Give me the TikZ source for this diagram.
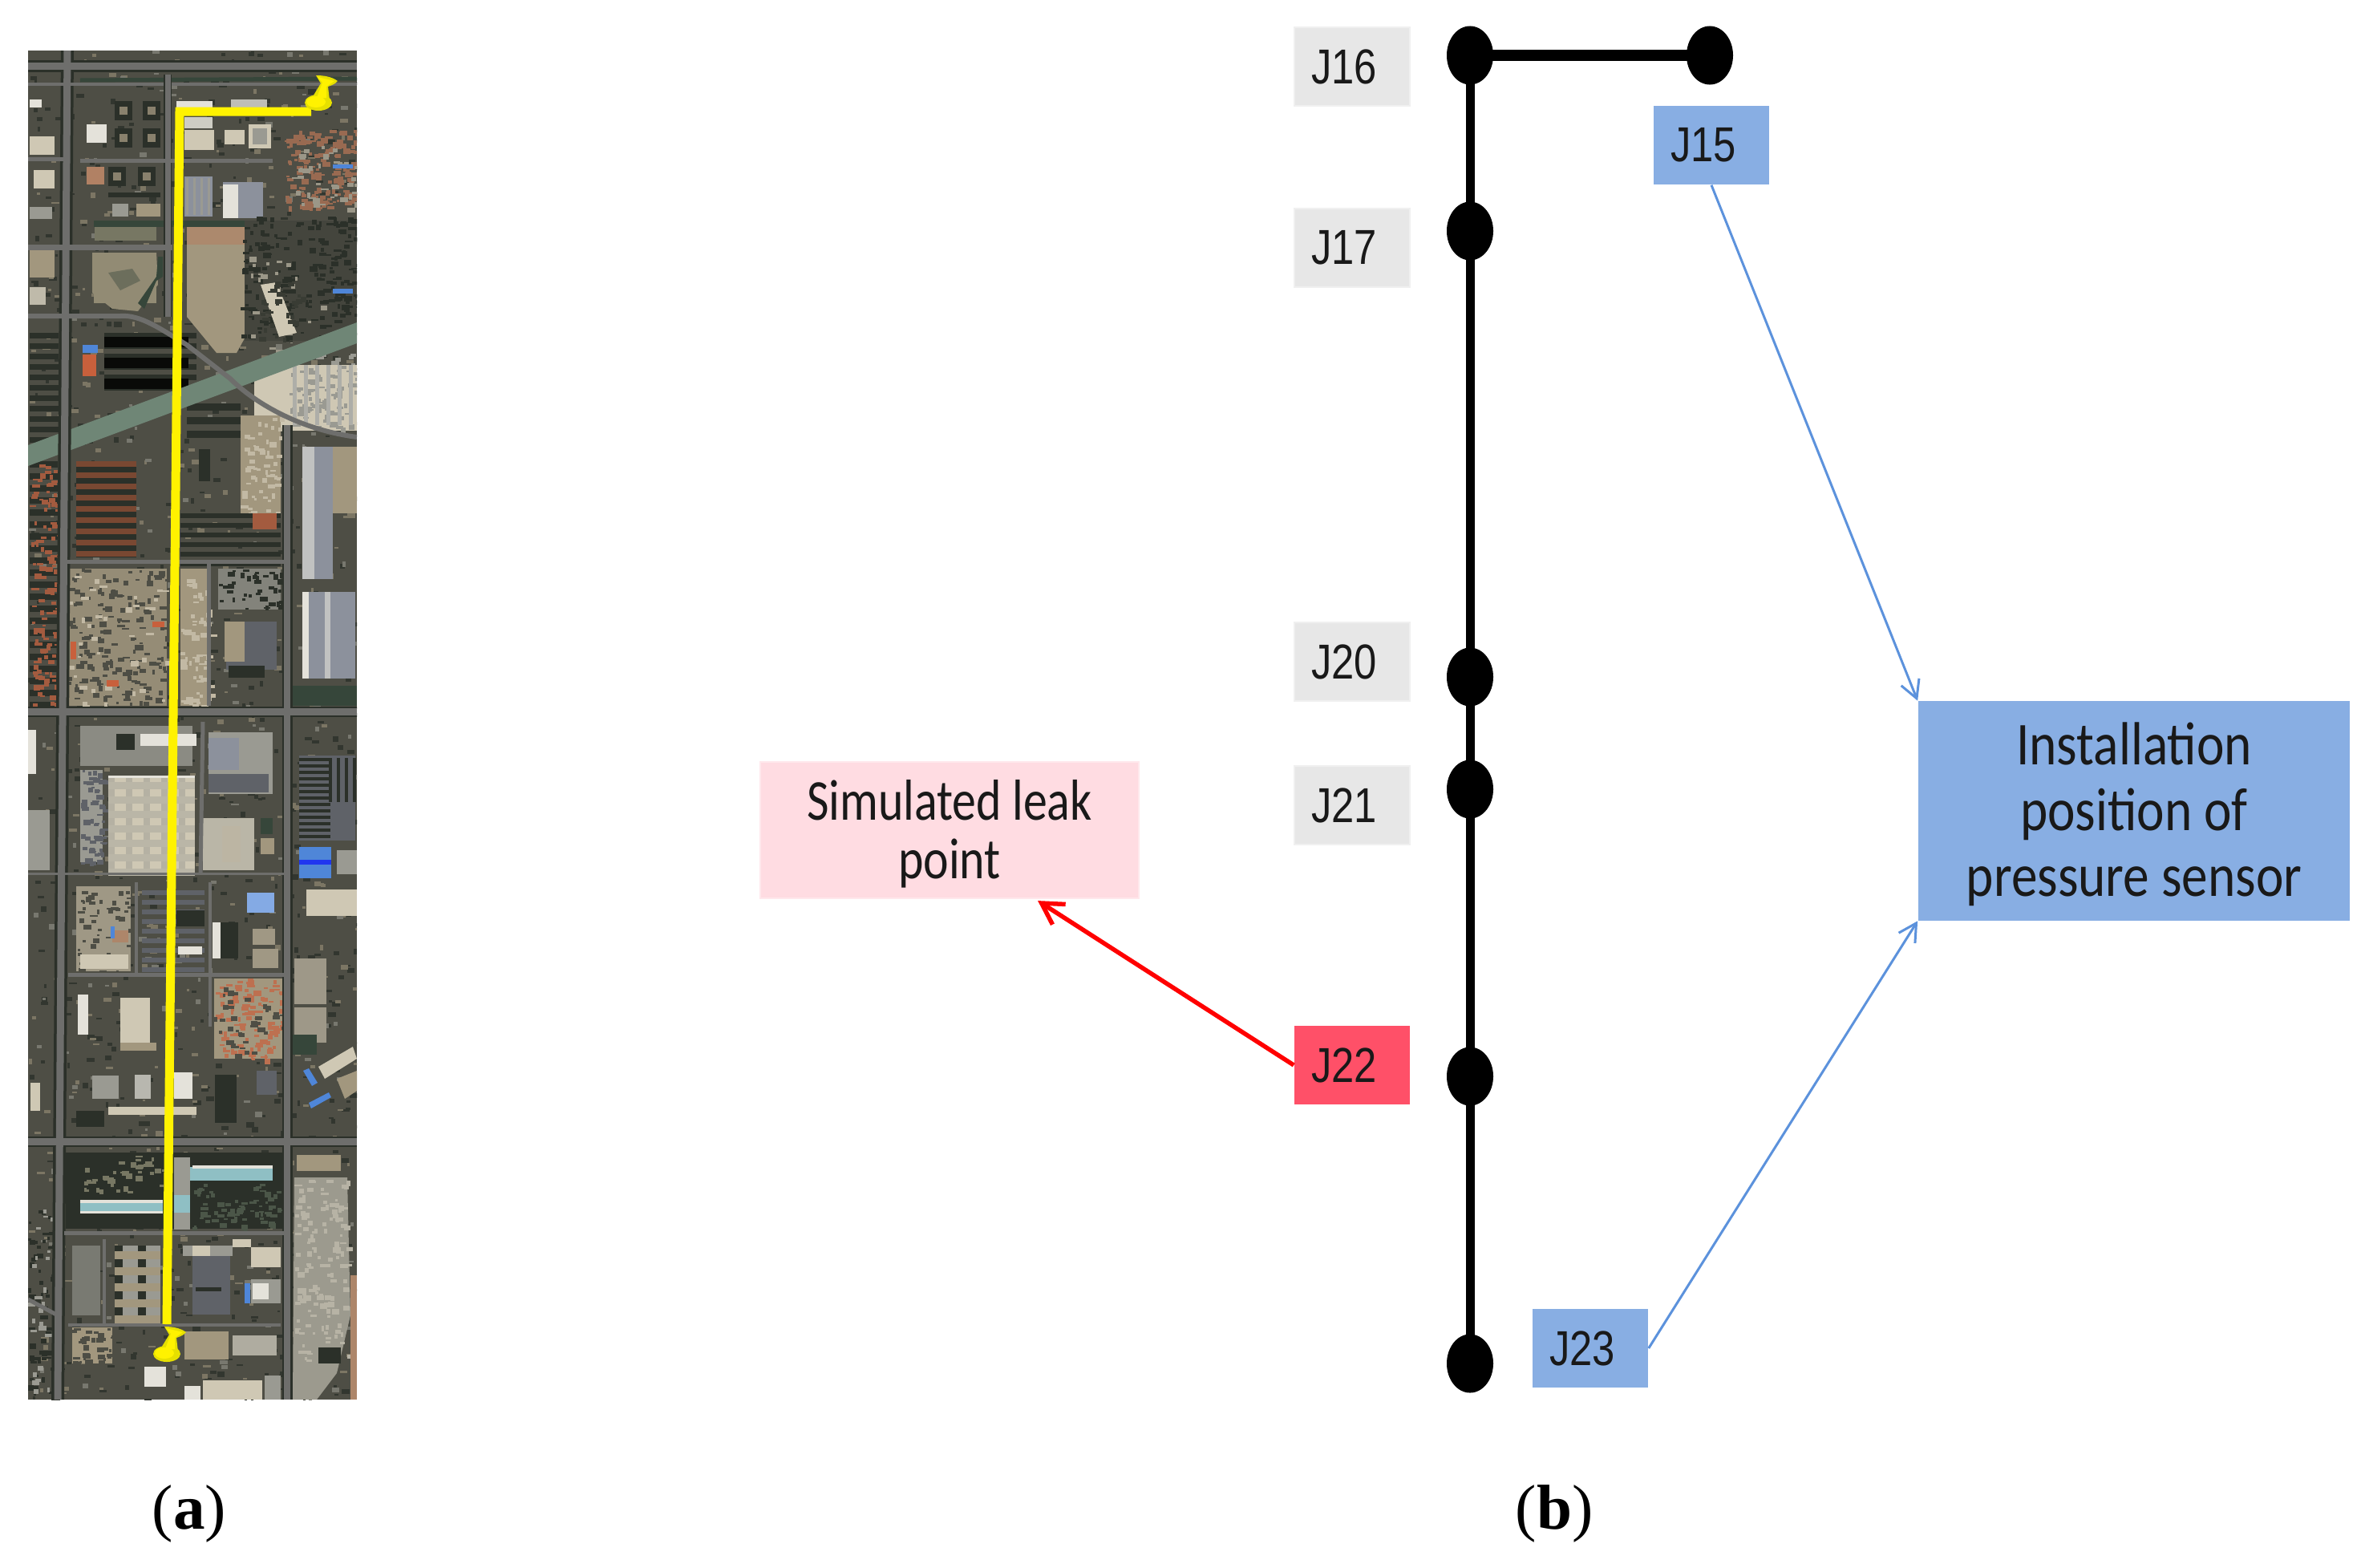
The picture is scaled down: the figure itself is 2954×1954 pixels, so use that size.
\documentclass[tikz,border=0pt]{standalone}
\usepackage{fontspec}
\usepackage{graphicx}
\usetikzlibrary{arrows.meta,shapes.geometric}
\newfontfamily\arialf{Liberation Sans}
\newfontfamily\calf{Carlito}
\newfontfamily\serf{Liberation Serif}
\definecolor{graybox}{HTML}{E7E7E7}
\definecolor{grayedge}{HTML}{F0F0F0}
\definecolor{bluebox}{HTML}{88AEE3}
\definecolor{blueline}{HTML}{5C92DC}
\definecolor{redbox}{HTML}{FF5068}
\definecolor{pinkbox}{HTML}{FFDCE2}
\definecolor{pinkedge}{HTML}{FFE8EC}
\definecolor{sbase}{HTML}{4E4E45}
\definecolor{sroad}{HTML}{6E6E6C}
\definecolor{sdark}{HTML}{2B3029}
\definecolor{sgreen}{HTML}{36463A}
\definecolor{scanal}{HTML}{6F8676}
\definecolor{stan}{HTML}{A2977E}
\definecolor{scream}{HTML}{CFC8B4}
\definecolor{swhite}{HTML}{E4E2DA}
\definecolor{ssolar}{HTML}{8C919C}
\definecolor{sgrey}{HTML}{9A9A92}
\definecolor{sdgrey}{HTML}{5F6268}
\definecolor{sorange}{HTML}{C8603C}
\definecolor{sblue}{HTML}{4F86D8}
\definecolor{scyan}{HTML}{8FBFC4}
\definecolor{spin}{HTML}{E6E000}
\newcommand\bk[5]{\fill[#5] (#1,#2) rectangle (#3,#4);}
\newcommand\bars[6]{\pgfmathsetmacro\nxt{#2+#5}\foreach \yy in {#2,\nxt,...,#4}{\fill[#6] (#1,\yy) rectangle (#3,\yy+#5*0.5);}}
\newcommand\cols[6]{\pgfmathsetmacro\nxt{#1+#5}\foreach \xx in {#1,\nxt,...,#3}{\fill[#6] (\xx,#2) rectangle (\xx+#5*0.35,#4);}}
\newcommand\mott[6]{\foreach \i in {1,...,#5}{\pgfmathsetmacro\mx{#1+rnd*(#3-#1)}\pgfmathsetmacro\my{#2+rnd*(#4-#2)}\pgfmathsetmacro\ms{3+rnd*7}\pgfmathsetmacro\mh{2+rnd*5}\fill[#6] (\mx,\my) rectangle ++(\ms,\mh);}}
\newcommand\pinmark[2]{\begin{scope}[shift={(#1,#2)}]
\fill[spin] (-3,-34) .. controls (5,-34) and (16,-33) .. (24,-27) .. controls (20,-22) and (14,-21) .. (12,-20) -- (14,-3) -- (-8,-6) -- (3,-24) -- cycle;
\fill[spin] (0,0) ellipse [x radius=.17cm, y radius=.1cm];
\fill[yellow] (-1,-32) -- (20,-27) -- (10,-20) -- (10,-6) -- (-2,-6) -- (5,-25) -- cycle;
\fill[yellow] (-3,-1) ellipse [x radius=.12cm, y radius=.07cm];
\end{scope}}
\tikzset{
  lab/.style={font=\arialf\fontsize{17.4}{20}\selectfont, inner sep=0pt, minimum width=1.44cm, minimum height=.98cm, text=black!90},
  graylab/.style={lab, fill=graybox, draw=grayedge, line width=.02cm},
  bluelab/.style={lab, fill=bluebox},
  redlab/.style={lab, fill=redbox},
  junction/.style={ellipse, fill=black, inner sep=0pt, minimum width=.58cm, minimum height=.73cm},
  pipe/.style={line width=.11cm, black},
  pipeh/.style={line width=.14cm, black},
  bluearrow/.style={blueline, line width=.03cm, -{Straight Barb[length=.22cm,width=.24cm]}},
  redarrow/.style={red, line width=.055cm, -{Straight Barb[length=.26cm,width=.3cm]}},
  caption/.style={font=\serf\fontsize{22.5}{24}\selectfont, inner sep=0pt},
  road/.style={sroad, line cap=butt},
  route/.style={yellow, line width=.11cm, line join=miter}
}
\newcommand\labtxt[1]{\scalebox{.83}[1]{#1}\kern.2cm}
\begin{document}
\begin{tikzpicture}[x=.01cm,y=-.01cm]
\useasboundingbox (0,0) rectangle (2954,1954);
\fill[white] (0,0) rectangle (2954,1954);
\pgfmathsetseed{17}
% ---- satellite image (a)
\begin{scope}
\clip (35,63) rectangle (445,1745);
\bk{35}{63}{445}{1745}{sbase}
\mott{35}{63}{445}{1745}{800}{sdark!80!sbase}
\mott{35}{63}{445}{1745}{500}{stan!55!sbase}
\mott{35}{63}{445}{1745}{250}{sgrey!55!sbase}
% fields and blocks, upper part
\bk{117}{315}{195}{378}{stan!85!sgreen}
\fill[stan!85!sgreen] (115,315) -- (195,315) -- (197,355) -- (172,388) -- (140,385) -- (115,365) -- cycle;
\fill[sgreen!50!stan] (135,340) -- (165,335) -- (175,350) -- (150,362) -- cycle;
\fill[stan] (233,300) -- (315,295) -- (317,400) -- (295,440) -- (270,440) -- (233,395) -- cycle;
\bk{233}{282}{315}{305}{stan!75!sorange}
\bk{118}{283}{195}{300}{stan!60!sgreen}
\bk{117}{275}{312}{283}{sgreen}
\fill[sgreen] (195,350) -- (203,345) -- (203,345) -- (203,320) -- (197,320) -- (195,345) -- (172,378) -- (180,385) -- cycle;
% white buildings
\bk{220}{126}{265}{134}{swhite}
\bk{230}{162}{267}{187}{scream}
\bk{230}{146}{265}{160}{swhite!70!sgrey}
\bk{108}{155}{133}{178}{swhite}
\bk{288}{124}{333}{136}{sgrey!50!swhite}
\bk{37}{124}{52}{134}{swhite}
\bk{37}{170}{68}{193}{scream}
\bk{42}{212}{68}{235}{scream}
\bk{37}{258}{65}{273}{sgrey}
\bk{37}{312}{68}{346}{stan}
\bk{37}{358}{57}{380}{scream!70!sgrey}
\bk{230}{220}{265}{270}{ssolar}
\cols{232}{222}{265}{268}{9}{sgrey}
\bk{278}{227}{328}{272}{ssolar}
\bk{278}{230}{297}{272}{swhite}
% courtyard blocks
\foreach \bx/\by in {143/126,178/126,143/160,178/160,135/208,172/208}{\bk{\bx}{\by}{\bx+22}{\by+24}{sdark}\bk{\bx+6}{\by+7}{\bx+16}{\by+17}{stan!70!sbase}}
\bk{135}{240}{200}{246}{sdark}
\bk{170}{254}{200}{270}{stan}
\bk{140}{254}{160}{270}{sgrey}
\bk{108}{208}{130}{230}{stan!60!sorange}
\bk{280}{162}{305}{180}{scream}
\bk{310}{155}{338}{185}{scream}
\bk{315}{160}{333}{180}{sgrey}
% upper-right residential
\bk{305}{275}{445}{425}{sbase!70!sdark}
\mott{300}{270}{445}{420}{220}{sdark}
\mott{355}{160}{445}{260}{160}{stan!40!sorange!70!sbase}
\mott{355}{180}{445}{260}{40}{scream!60!sbase}
\bk{415}{205}{440}{210}{sblue}
\mott{310}{320}{400}{440}{25}{scream!60!sbase}
\bk{415}{360}{440}{366}{sblue}
\fill[scream] (325,355) -- (345,352) -- (370,415) -- (348,420) -- cycle;
\mott{322}{350}{375}{425}{35}{sdark!60!sbase}
% mid-left residential
\bars{37}{415}{73}{560}{13}{sdark}
\bk{130}{415}{245}{485}{sbase}
\bars{130}{415}{245}{485}{13}{sdark}
\bars{130}{420}{235}{485}{26}{black!80!sdark}
\bk{103}{442}{120}{469}{sorange}
\bk{103}{430}{122}{440}{sblue}
% right of canal
\bk{317}{455}{445}{537}{scream}
\mott{360}{440}{445}{537}{90}{sgrey}
\cols{365}{455}{445}{530}{14}{sgrey!80!white}
\bk{300}{518}{350}{640}{stan}
\mott{300}{520}{350}{640}{60}{scream!70!stan}
\bars{233}{503}{300}{553}{17}{sdark}
\bk{248}{560}{262}{600}{sdark}
\bk{377}{557}{415}{722}{ssolar}
\bk{377}{557}{392}{722}{swhite!60!ssolar}
\bk{415}{557}{445}{640}{stan}
% red roofs
\bk{95}{575}{170}{695}{sdark}
\bars{95}{575}{170}{695}{14}{sorange!50!sdark}
\bars{37}{575}{72}{880}{15}{sdark}
\mott{37}{575}{72}{880}{120}{sorange!70!sbase}
\bars{225}{640}{350}{700}{12}{sdark}
\bk{315}{640}{345}{660}{sorange!70!sbase}
% construction
\bk{85}{709}{208}{880}{stan!85!sbase}
\mott{85}{709}{208}{880}{180}{sbase}
\mott{85}{709}{208}{880}{40}{scream!70!stan}
\bk{88}{800}{95}{822}{sorange}
\bk{190}{775}{205}{782}{sorange}
\bk{133}{848}{148}{856}{sorange}
\bk{225}{709}{262}{880}{stan}
\mott{225}{720}{262}{880}{60}{scream!70!stan}
\bk{272}{709}{350}{760}{sgrey!70!sbase}
\mott{272}{709}{350}{760}{40}{sdark}
\bk{282}{775}{345}{835}{sdgrey}
\bk{285}{830}{330}{845}{sdark}
\bk{280}{775}{305}{825}{stan}
\bk{377}{738}{443}{846}{ssolar}
\bk{377}{738}{385}{846}{swhite}
\bk{405}{738}{412}{846}{swhite!60!ssolar}
\bk{365}{855}{445}{880}{sgreen}
% below road 887
\bk{100}{905}{240}{955}{sgrey!80!sbase}
\bk{175}{915}{245}{930}{swhite}
\bk{145}{915}{168}{935}{sdark}
\bk{100}{960}{128}{1075}{sgrey}
\mott{100}{960}{128}{1075}{60}{sdgrey}
\bk{135}{967}{243}{1089}{scream}
\cols{135}{967}{243}{1089}{22}{sgrey!50!scream}
\bars{135}{975}{243}{1089}{18}{sgrey!40!scream}
\bk{135}{967}{243}{970}{swhite}
\bk{260}{913}{340}{990}{sgrey}
\bk{260}{920}{298}{960}{ssolar}
\bk{302}{915}{340}{955}{sgrey}
\bk{260}{965}{335}{988}{sdgrey}
\bk{253}{1020}{317}{1085}{sgrey!40!scream}
\bk{277}{1030}{300}{1075}{stan!60!swhite}
\bk{325}{1020}{340}{1040}{sgreen}
\bk{325}{1045}{342}{1065}{stan}
\bk{373}{942}{443}{1048}{sdgrey}
\bars{373}{945}{412}{1048}{8}{sdark}
\cols{410}{945}{443}{1000}{10}{sdark}
\bk{373}{1056}{413}{1095}{sblue}
\bk{373}{1072}{413}{1078}{blue!60!sblue}
\bk{420}{1060}{445}{1090}{sgrey}
\bk{382}{1109}{445}{1142}{scream}
\bk{35}{910}{45}{965}{swhite}
\bk{35}{1010}{62}{1085}{sgrey}
% lower blocks
\bk{95}{1105}{163}{1211}{stan!65!sgrey}
\mott{95}{1105}{163}{1211}{50}{sbase}
\bk{140}{1160}{160}{1175}{stan!70!sorange}
\bk{138}{1155}{143}{1170}{sblue}
\bk{100}{1190}{160}{1208}{scream}
\bars{177}{1110}{255}{1207}{12}{sdgrey}
\bk{220}{1135}{255}{1155}{sdark}
\bk{222}{1180}{252}{1190}{swhite}
\bk{308}{1113}{342}{1138}{sblue!70!white}
\bk{265}{1150}{297}{1195}{sdark}
\bk{265}{1150}{275}{1195}{swhite}
\bk{315}{1158}{343}{1178}{stan!70!sgrey}
\bk{315}{1183}{347}{1207}{stan!70!sgrey}
\bk{367}{1195}{407}{1252}{stan!50!sgrey}
\bk{367}{1256}{407}{1300}{stan!50!sgrey}
\bk{267}{1220}{353}{1320}{stan}
\mott{267}{1220}{353}{1320}{110}{sorange!70!stan}
\mott{267}{1220}{353}{1320}{40}{sbase}
\bk{97}{1240}{110}{1290}{swhite}
\bk{150}{1244}{187}{1300}{scream}
\bk{150}{1300}{195}{1310}{stan}
\bk{363}{1290}{395}{1315}{sgreen}
\fill[scream] (397,1330) -- (440,1305) -- (445,1320) -- (405,1345) -- cycle;
\fill[stan] (420,1345) -- (445,1335) -- (445,1360) -- (430,1370) -- cycle;
\bk{115}{1341}{148}{1370}{sgrey}
\bk{168}{1340}{188}{1370}{sgrey!60!swhite}
\bk{217}{1337}{240}{1370}{swhite}
\bk{135}{1380}{245}{1390}{scream}
\bk{95}{1385}{130}{1405}{sdark}
\fill[sblue] (378,1335) -- (385,1332) -- (396,1350) -- (389,1354) -- cycle;
\fill[sblue] (385,1375) -- (410,1362) -- (413,1368) -- (388,1382) -- cycle;
\bk{268}{1340}{295}{1400}{sdark}
\bk{320}{1335}{345}{1365}{sdgrey}
\bk{38}{1350}{50}{1385}{scream}
% park
\bk{82}{1437}{352}{1532}{sdark}
\mott{100}{1440}{205}{1485}{40}{stan!60!sgreen}
\mott{240}{1475}{350}{1530}{70}{sgreen!80!stan}
\bk{100}{1496}{203}{1513}{scyan}
\bk{100}{1496}{203}{1500}{swhite}
\bk{100}{1510}{203}{1513}{swhite}
\bk{217}{1455}{340}{1472}{scyan}
\bk{240}{1453}{340}{1457}{swhite}
\bk{217}{1443}{237}{1533}{sgrey}
\bk{217}{1490}{237}{1512}{scyan}
\bk{370}{1440}{425}{1460}{stan}
% big grey building
\fill[sgrey!80!stan] (367,1468) -- (433,1468) -- (437,1640) -- (420,1712) -- (395,1745) -- (365,1745) -- cycle;
\mott{367}{1470}{433}{1700}{130}{scream!55!sgrey}
\bk{397}{1680}{425}{1700}{sdark}
\bk{437}{1590}{445}{1745}{stan!70!sorange}
% lower blocks near end
\bk{240}{1553}{287}{1639}{sdgrey}
\bk{228}{1553}{290}{1566}{sgrey}
\bk{240}{1553}{262}{1566}{scream}
\bk{244}{1605}{276}{1610}{sdark}
\bk{143}{1553}{200}{1643}{sgrey}
\cols{143}{1553}{200}{1643}{29}{sdark}
\bars{143}{1560}{200}{1640}{20}{stan}
\bk{90}{1553}{125}{1640}{sgrey!70!sdark}
\bk{313}{1555}{350}{1580}{scream}
\bk{313}{1595}{350}{1625}{sgrey}
\bk{315}{1600}{335}{1620}{swhite}
\bk{290}{1545}{313}{1555}{scream}
\bk{305}{1600}{312}{1625}{sblue}
\bk{90}{1655}{140}{1700}{stan}
\mott{90}{1655}{140}{1700}{40}{sbase}
\bk{290}{1665}{345}{1690}{sgrey!60!scream}
\bk{230}{1660}{285}{1695}{stan}
\bk{180}{1704}{207}{1729}{swhite}
\bk{253}{1721}{327}{1745}{scream}
\bk{230}{1728}{250}{1745}{swhite}
\bk{330}{1715}{350}{1745}{sgrey}
\mott{35}{1500}{72}{1745}{60}{sdark}
\mott{35}{1500}{72}{1745}{30}{sgrey}
% canal and roads
\fill[scanal] (35,555) -- (445,402) -- (445,428) -- (35,581) -- cycle;
\draw[sdark,line width=.16cm] (84,63) -- (72,1745);
\draw[sdark,line width=.13cm] (358,530) -- (358,1745);
\draw[sdark,line width=.15cm] (35,82) -- (445,82);
\draw[sdark,line width=.13cm] (35,887) -- (445,887);
\draw[sdark,line width=.13cm] (35,1423) -- (445,1423);
\draw[road,line width=.09cm] (35,82) -- (445,82);
\draw[road,line width=.04cm] (35,105) -- (445,105);
\draw[sgreen,line width=.05cm] (100,100) -- (445,98);
\draw[road,line width=.09cm] (84,63) -- (72,1745);
\draw[sdark,line width=.1cm] (209,93) -- (209,395);
\draw[road,line width=.07cm] (209,93) -- (209,395);
\draw[road,line width=.07cm] (35,308) -- (215,308);
\draw[road,line width=.05cm] (35,198) -- (80,198);
\draw[road,line width=.05cm] (100,200) -- (340,200);
\draw[road,line width=.06cm] (35,394) -- (150,394) .. controls (175,392) and (200,410) .. (233,430) -- (287,472) .. controls (315,500) and (370,535) .. (445,545);
\draw[road,line width=.08cm] (358,530) -- (358,1745);
\draw[road,line width=.05cm] (84,700) -- (358,700);
\draw[road,line width=.09cm] (35,887) -- (445,887);
\draw[road,line width=.03cm] (35,1089) -- (358,1089);
\draw[road,line width=.05cm] (260,700) -- (260,880);
\draw[road,line width=.05cm] (253,900) -- (250,1089);
\draw[road,line width=.04cm] (170,1100) -- (170,1215);
\draw[road,line width=.04cm] (262,1100) -- (262,1280);
\draw[road,line width=.05cm] (85,1215) -- (358,1215);
\draw[road,line width=.09cm] (35,1423) -- (445,1423);
\draw[road,line width=.05cm] (80,1537) -- (355,1537);
\draw[road,line width=.04cm] (130,1545) -- (130,1650);
\draw[road,line width=.04cm] (85,1652) -- (350,1652);
\draw[road,line width=.05cm] (35,1620) -- (72,1640);
% route
\draw[route] (388,139) -- (224,139) -- (208,1651);
\end{scope}
\pinmark{397}{128}
\pinmark{208}{1688}
% ---- diagram (b)
\node[graylab] (j16) at (1686,83) {\labtxt{J16}};
\node[graylab] (j17) at (1686,309) {\labtxt{J17}};
\node[graylab] (j20) at (1686,825) {\labtxt{J20}};
\node[graylab] (j21) at (1686,1004) {\labtxt{J21}};
\node[redlab]  (j22) at (1686,1328) {\labtxt{J22}};
\node[bluelab] (j15) at (2134,181) {\labtxt{J15}};
\node[bluelab] (j23) at (1983,1681) {\labtxt{J23}};
\node[junction] (n16) at (1833,69) {};
\node[junction] (n15) at (2132,69) {};
\node[junction] (n17) at (1833,288) {};
\node[junction] (n20) at (1833,844) {};
\node[junction] (n21) at (1833,984) {};
\node[junction] (n22) at (1833,1342) {};
\node[junction] (n23) at (1833,1700) {};
\draw[pipeh] (n16.center) -- (n15.center);
\draw[pipe] (n16.center) -- (n17.center);
\draw[pipe] (n17.center) -- (n20.center);
\draw[pipe] (n20.center) -- (n21.center);
\draw[pipe] (n21.center) -- (n22.center);
\draw[pipe] (n22.center) -- (n23.center);
\node[fill=pinkbox, draw=pinkedge, line width=.02cm, inner sep=0pt, minimum width=4.71cm, minimum height=1.7cm, align=center, font=\calf\fontsize{20.5}{20.8}\selectfont, text=black!90] (sim) at (1184,1035) {\rule{0pt}{.6cm}\scalebox{.83}[1]{Simulated leak}\\\scalebox{.83}[1]{point}};
\node[fill=bluebox, inner sep=0pt, minimum width=5.38cm, minimum height=2.73cm, align=center, font=\calf\fontsize{21.6}{23.3}\selectfont, text=black!90] (inst) at (2661,1011) {\rule{0pt}{.62cm}\scalebox{.86}[1]{Installation}\\\scalebox{.86}[1]{position of}\\\scalebox{.86}[1]{pressure sensor}};
\draw[bluearrow] (j15.south) -- (inst.north west);
\draw[bluearrow] (j23.east) -- (inst.south west);
\draw[redarrow] (j22.west) -- ([xshift=1.1cm,yshift=-.02cm]sim.south);
\node[caption] (capa) at (236,1887) {(\textbf{a})};
\node[caption] (capb) at (1938,1887) {(\textbf{b})};
\end{tikzpicture}
\end{document}
